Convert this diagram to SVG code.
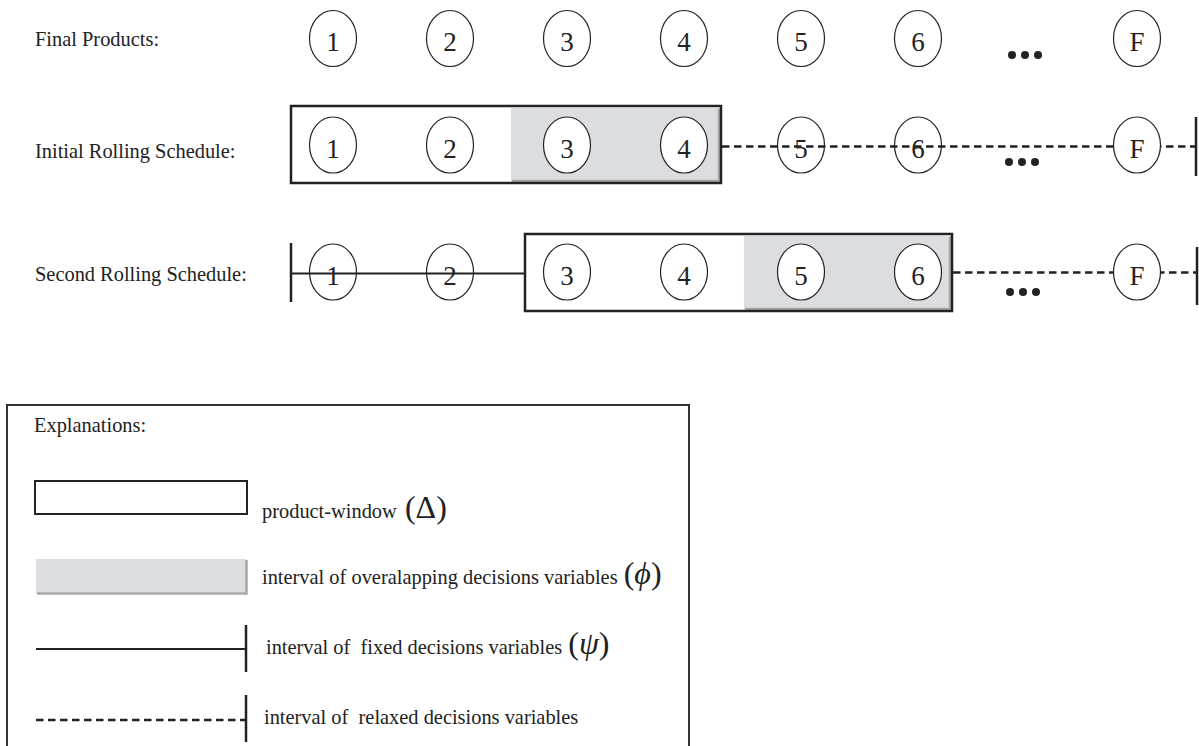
<svg xmlns="http://www.w3.org/2000/svg" width="1199" height="746" viewBox="0 0 1199 746">
<style>
text{font-family:"Liberation Serif","Times New Roman",serif;fill:#222}
.lbl{font-size:20.4px}
.num{font-size:27px;text-anchor:middle}
.sym{font-size:32px}
.node{fill:none;stroke:#222;stroke-width:1.2}
.nodef{fill:#fff;stroke:#222;stroke-width:1.2}
.win{fill:none;stroke:#222;stroke-width:2.5}
.gray{fill:#dcdde0}
.shadow{fill:none;stroke:#a8a8a8;stroke-width:2.5}
.solid{stroke:#222;stroke-width:2.2;fill:none}
.dash{stroke:#222;stroke-width:2.3;stroke-dasharray:7.5 4.5;fill:none}
.bar{stroke:#222;stroke-width:2.5;fill:none}
.dot{fill:#222}
</style>
<rect width="1199" height="746" fill="#fff"/>

<text class="lbl" x="35" y="46">Final Products:</text>
<text class="lbl" x="35" y="158">Initial Rolling Schedule:</text>
<text class="lbl" x="35" y="281">Second Rolling Schedule:</text>

<g id="row2-window">
  <rect class="gray" x="511" y="108" width="209" height="74"/>
  <path class="shadow" d="M512 181 H719 V109"/>
  <rect class="win" x="291" y="106" width="430" height="77"/>
</g>
<g id="row3-window">
  <rect class="gray" x="744" y="236" width="207" height="74"/>
  <path class="shadow" d="M745 309 H950 V237"/>
  <rect class="win" x="525" y="234" width="427" height="77"/>
</g>

<g id="connectors">
  <line class="dash" x1="722" y1="146.5" x2="1196" y2="146.5"/>
  <line class="bar" x1="1196" y1="117" x2="1196" y2="176"/>
  <line class="bar" x1="291" y1="243" x2="291" y2="302"/>
  <line class="solid" x1="291" y1="273.5" x2="525" y2="273.5"/>
  <line class="dash" x1="953" y1="272.5" x2="1197" y2="272.5"/>
  <line class="bar" x1="1197" y1="247" x2="1197" y2="305"/>
</g>

<g id="r1-n1"><ellipse class="node" cx="333" cy="38.5" rx="23.5" ry="28"/><text class="num" x="333" y="51">1</text></g>
<g id="r1-n2"><ellipse class="node" cx="450" cy="38.5" rx="23.5" ry="28"/><text class="num" x="450" y="51">2</text></g>
<g id="r1-n3"><ellipse class="node" cx="567" cy="38.5" rx="23.5" ry="28"/><text class="num" x="567" y="51">3</text></g>
<g id="r1-n4"><ellipse class="node" cx="684" cy="38.5" rx="23.5" ry="28"/><text class="num" x="684" y="51">4</text></g>
<g id="r1-n5"><ellipse class="node" cx="801" cy="38.5" rx="23.5" ry="28"/><text class="num" x="801" y="51">5</text></g>
<g id="r1-n6"><ellipse class="node" cx="918" cy="38.5" rx="23.5" ry="28"/><text class="num" x="918" y="51">6</text></g>
<g id="r1-dots"><circle class="dot" cx="1012" cy="55" r="4"/><circle class="dot" cx="1025" cy="55" r="4"/><circle class="dot" cx="1038" cy="55" r="4"/></g>
<g id="r1-nF"><ellipse class="node" cx="1137" cy="38.5" rx="23.5" ry="28"/><text class="num" x="1137" y="51">F</text></g>

<g id="r2-n1"><ellipse class="node" cx="333" cy="145" rx="23.5" ry="28"/><text class="num" x="333" y="157.5">1</text></g>
<g id="r2-n2"><ellipse class="node" cx="450" cy="145" rx="23.5" ry="28"/><text class="num" x="450" y="157.5">2</text></g>
<g id="r2-n3"><ellipse class="nodef" cx="567" cy="145" rx="23.5" ry="28"/><text class="num" x="567" y="157.5">3</text></g>
<g id="r2-n4"><ellipse class="nodef" cx="684" cy="145" rx="23.5" ry="28"/><text class="num" x="684" y="157.5">4</text></g>
<g id="r2-n5"><ellipse class="node" cx="801" cy="145" rx="23.5" ry="28"/><text class="num" x="801" y="157.5">5</text></g>
<g id="r2-n6"><ellipse class="node" cx="918" cy="145" rx="23.5" ry="28"/><text class="num" x="918" y="157.5">6</text></g>
<g id="r2-dots"><circle class="dot" cx="1009" cy="162" r="4"/><circle class="dot" cx="1022" cy="162" r="4"/><circle class="dot" cx="1035" cy="162" r="4"/></g>
<g id="r2-nF"><ellipse class="nodef" cx="1137" cy="145" rx="23.5" ry="28"/><text class="num" x="1137" y="157.5">F</text></g>

<g id="r3-n1"><ellipse class="node" cx="333" cy="272" rx="23.5" ry="28"/><text class="num" x="333" y="284.5">1</text></g>
<g id="r3-n2"><ellipse class="node" cx="450" cy="272" rx="23.5" ry="28"/><text class="num" x="450" y="284.5">2</text></g>
<g id="r3-n3"><ellipse class="nodef" cx="567" cy="272" rx="23.5" ry="28"/><text class="num" x="567" y="284.5">3</text></g>
<g id="r3-n4"><ellipse class="nodef" cx="684" cy="272" rx="23.5" ry="28"/><text class="num" x="684" y="284.5">4</text></g>
<g id="r3-n5"><ellipse class="nodef" cx="801" cy="272" rx="23.5" ry="28"/><text class="num" x="801" y="284.5">5</text></g>
<g id="r3-n6"><ellipse class="nodef" cx="918" cy="272" rx="23.5" ry="28"/><text class="num" x="918" y="284.5">6</text></g>
<g id="r3-dots"><circle class="dot" cx="1010" cy="292" r="4"/><circle class="dot" cx="1023" cy="292" r="4"/><circle class="dot" cx="1036" cy="292" r="4"/></g>
<g id="r3-nF"><ellipse class="nodef" cx="1137" cy="272" rx="23.5" ry="28"/><text class="num" x="1137" y="284.5">F</text></g>

<g id="legend">
  <path d="M7 746 V405 H689 V746" fill="none" stroke="#333" stroke-width="2"/>
  <text class="lbl" x="34" y="432">Explanations:</text>
  <rect x="35" y="481" width="212" height="33" fill="none" stroke="#222" stroke-width="2"/>
  <text class="lbl" x="262" y="518" xml:space="preserve">product-window <tspan class="sym" dx="3">(Δ)</tspan></text>
  <rect class="gray" x="36" y="559" width="210" height="34"/>
  <path class="shadow" d="M37 593.5 H246.5 V560" stroke-width="2"/>
  <text class="lbl" x="262" y="584" xml:space="preserve">interval of overalapping decisions variables <tspan class="sym" dx="1">(<tspan font-style="italic">ϕ</tspan>)</tspan></text>
  <line class="solid" x1="36" y1="649" x2="246" y2="649"/>
  <line class="bar" x1="246" y1="625" x2="246" y2="672"/>
  <text class="lbl" x="266" y="654" xml:space="preserve">interval of  fixed decisions variables <tspan class="sym" dx="1">(<tspan font-style="italic">ψ</tspan>)</tspan></text>
  <line class="dash" x1="36" y1="720" x2="245" y2="720"/>
  <line class="bar" x1="246" y1="695" x2="246" y2="742"/>
  <text class="lbl" x="264" y="724" xml:space="preserve">interval of  relaxed decisions variables</text>
</g>
</svg>
